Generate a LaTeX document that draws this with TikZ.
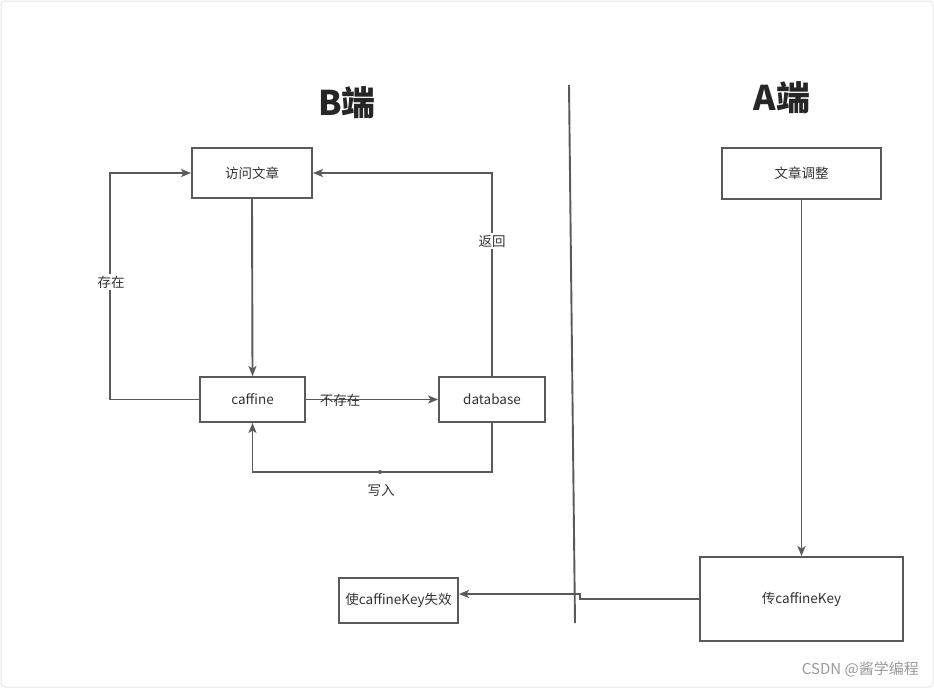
\documentclass[tikz,border=0pt]{standalone}
\usepackage{fontspec}
\setmainfont{Noto Sans CJK SC}
\usetikzlibrary{arrows.meta}
\definecolor{ln}{HTML}{5A5A5A}
\definecolor{tx}{HTML}{333333}
\definecolor{wm}{HTML}{9A9A9A}
\definecolor{fr}{HTML}{E8E8E8}
\begin{document}
\begin{tikzpicture}[x=1pt,y=-1pt,
  box/.style={draw=ln,line width=1.9pt,fill=white,text=tx,font=\fontsize{13.5}{15}\selectfont,inner sep=0pt,minimum width=#1},
  conn/.style={draw=ln,line width=1.9pt,-{Stealth[length=10pt,width=8pt,inset=2.5pt]}},
  plain/.style={draw=ln,line width=1.9pt},
  lbl/.style={text=tx,font=\fontsize{13.5}{15}\selectfont,inner sep=1.5pt},
  title/.style={text=black!85,font=\fontsize{34}{38}\selectfont\bfseries,inner sep=0pt}]
\useasboundingbox (0,0) rectangle (934,688);
\draw[fr,line width=1pt,rounded corners=4pt] (1,1) rectangle (933,687);
% titles
\node[title] (tB) at (347,103) {B端};
\node[title] (tA) at (782,98) {A端};
% divider
\coordinate (d1) at (569,85);
\coordinate (d2) at (575,623);
\draw[plain] (d1) -- (d2);
% boxes
\node[box=120pt,minimum height=50pt] (fw) at (252,173) {访问文章};
\node[box=105pt,minimum height=45pt] (cf) at (252.5,399.5) {caffine};
\node[box=106pt,minimum height=45pt] (db) at (492,399.5) {database};
\node[box=159pt,minimum height=51pt] (tz) at (801.5,173.5) {文章调整};
\node[box=203pt,minimum height=84pt] (ck) at (801.5,599) {传caffineKey};
\node[box=119pt,minimum height=45pt] (sx) at (398.5,600.5) {使caffineKey失效};
% connectors
\draw[conn] (fw.south) -- (cf.north);
\draw[conn] (cf.west) -- (110,399.5) -- (110,173) -- (fw.west);
\node[lbl,fill=white] (lcz) at (111,282) {存在};
\draw[conn] (cf.east) -- (db.west);
\node[lbl] (lbcz) at (340,400) {不存在};
\draw[conn] (db.north) -- (492,173) -- (fw.east);
\node[lbl,fill=white] (lfh) at (492,241) {返回};
\coordinate (wdot) at (380,472);
\draw[conn] (db.south) -- (492,472) -- (252.5,472) -- (cf.south);
\fill[ln] (wdot) circle (2pt);
\node[lbl] (lxr) at (381,490) {写入};
\draw[conn] (tz.south) -- (ck.north);
\draw[conn] (ck.west) -- (580,599) -- (580,594) -- (459,594);
% watermark
\node[text=wm,font=\fontsize{15}{17}\selectfont,anchor=east,inner sep=0pt] (wmk) at (919,669) {CSDN @酱学编程};
\end{tikzpicture}
\end{document}
